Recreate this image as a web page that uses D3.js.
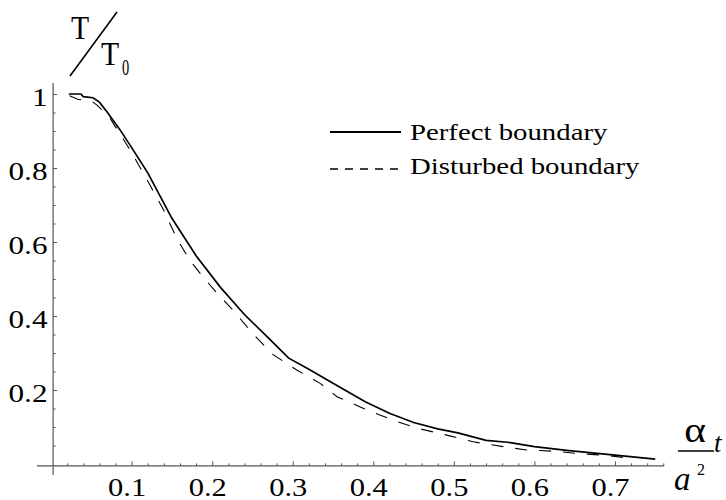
<!DOCTYPE html>
<html>
<head>
<meta charset="utf-8">
<script src="https://cdn.jsdelivr.net/npm/d3@7"></script>
<style>
  body { margin: 0; background: #fff; }
</style>
</head>
<body>
<div id="chart"></div>
<script>
// values
var perfectX = [0.022, 0.037, 0.040, 0.052, 0.060, 0.070, 0.085, 0.100, 0.120, 0.150, 0.180, 0.210, 0.240, 0.270, 0.295, 0.320, 0.350, 0.390, 0.420, 0.450, 0.480, 0.505, 0.540, 0.570, 0.600, 0.640, 0.700, 0.750];
var perfectY = [1.000, 1.000, 0.993, 0.990, 0.978, 0.950, 0.905, 0.855, 0.787, 0.664, 0.563, 0.478, 0.404, 0.340, 0.286, 0.256, 0.218, 0.168, 0.137, 0.112, 0.095, 0.084, 0.064, 0.058, 0.047, 0.037, 0.024, 0.013];

var disturbedX = [0.023, 0.033, 0.050, 0.057, 0.073, 0.098, 0.120, 0.140, 0.156, 0.172, 0.190, 0.208, 0.225, 0.250, 0.276, 0.305, 0.334, 0.355, 0.383, 0.400, 0.430, 0.458, 0.495, 0.524, 0.561, 0.590, 0.628, 0.650, 0.684, 0.722];
var disturbedY = [0.995, 0.986, 0.981, 0.970, 0.935, 0.849, 0.765, 0.685, 0.610, 0.551, 0.502, 0.457, 0.418, 0.353, 0.295, 0.254, 0.218, 0.182, 0.155, 0.139, 0.114, 0.095, 0.076, 0.060, 0.047, 0.038, 0.034, 0.029, 0.024, 0.015];

var xTicks = [0.1, 0.2, 0.3, 0.4, 0.5, 0.6, 0.7];
var xTickLabels = ["0.1", "0.2", "0.3", "0.4", "0.5", "0.6", "0.7"];
var yTicks = [0.2, 0.4, 0.6, 0.8, 1];
var yTickLabels = ["0.2", "0.4", "0.6", "0.8", "1"];
var legendLabels = ["Perfect boundary", "Disturbed boundary"];

var width = 726, height = 500;
var serif = "'Liberation Serif', 'Times New Roman', serif";

var svg = d3.select("#chart")
    .append("svg")
    .attr("width", width)
    .attr("height", height)
    .attr("font-family", serif);

var x = d3.scaleLinear().domain([0, 1]).range([51.1, 856.6]);
var y = d3.scaleLinear().domain([0, 1]).range([464, 94]);

var axisColor = "#555";
var xAxisAt = y(-0.005);
var yAxisAt = x(0.0025);

// x axis: ticks point up
var xMinor = d3.range(0.02, 0.77, 0.02).filter(function(v) {
    return Math.abs(v * 10 - Math.round(v * 10)) > 1e-6;
});
var gx = svg.append("g").attr("transform", "translate(0," + xAxisAt + ")");
gx.append("g")
    .call(d3.axisTop(x).tickValues(xMinor).tickSize(2.5).tickFormat(""));
gx.append("g")
    .call(d3.axisTop(x).tickValues(xTicks).tickSize(4.5).tickFormat(""));
gx.selectAll(".domain").remove();
gx.selectAll("line").attr("stroke", axisColor);
gx.append("line")
    .attr("x1", 37).attr("x2", x(0.761))
    .attr("stroke", axisColor).attr("stroke-width", 1.2);

// y axis: ticks point right
var yMinor = d3.range(0.05, 1.01, 0.05).filter(function(v) {
    return Math.abs(v * 5 - Math.round(v * 5)) > 1e-6;
});
var gy = svg.append("g").attr("transform", "translate(" + yAxisAt + ",0)");
gy.append("g")
    .call(d3.axisRight(y).tickValues(yMinor).tickSize(2.5).tickFormat(""));
gy.append("g")
    .call(d3.axisRight(y).tickValues(yTicks).tickSize(4).tickFormat(""));
gy.selectAll(".domain").remove();
gy.selectAll("line").attr("stroke", axisColor);
gy.append("line")
    .attr("y1", y(1.03)).attr("y2", 475)
    .attr("stroke", axisColor).attr("stroke-width", 1.2);

// tick labels, wide serif like the original
svg.append("g").selectAll("text")
    .data(xTicks)
    .enter()
    .append("text")
    .attr("transform", function(d) { return "translate(" + (x(d) - 4.5) + ",496) scale(1.22,1)"; })
    .attr("text-anchor", "middle")
    .attr("font-family", serif)
    .style("font-size", "25px")
    .text(function(d, i) { return xTickLabels[i]; });

svg.append("g").selectAll("text")
    .data(yTicks)
    .enter()
    .append("text")
    .attr("transform", function(d) { return "translate(47.5," + (y(d) + 12) + ") scale(1.2,1)"; })
    .attr("text-anchor", "end")
    .attr("font-family", serif)
    .style("font-size", "26px")
    .text(function(d, i) { return yTickLabels[i]; });

// curves
var line = d3.line()
    .x(function(d) { return x(d[0]); })
    .y(function(d) { return y(d[1]); });

svg.append("path")
    .datum(d3.zip(perfectX, perfectY))
    .attr("d", line)
    .attr("fill", "none")
    .attr("stroke", "#000")
    .attr("stroke-width", 1.7);

svg.append("path")
    .datum(d3.zip(disturbedX, disturbedY))
    .attr("d", line)
    .attr("fill", "none")
    .attr("stroke", "#000")
    .attr("stroke-width", 1.1)
    .attr("stroke-dasharray", "12,12");

// legend
var legend = svg.append("g");
legend.append("line")
    .attr("x1", 330).attr("x2", 401).attr("y1", 132).attr("y2", 132)
    .attr("stroke", "#000").attr("stroke-width", 1.8);
legend.append("line")
    .attr("x1", 330).attr("x2", 401).attr("y1", 169).attr("y2", 169)
    .attr("stroke", "#000").attr("stroke-width", 1.3)
    .attr("stroke-dasharray", "8,7");
legend.selectAll("text")
    .data(legendLabels)
    .enter()
    .append("text")
    .attr("transform", function(d, i) { return "translate(410," + (140 + i * 34) + ") scale(1.28,1)"; })
    .attr("font-family", serif)
    .style("font-size", "22.5px")
    .text(function(d) { return d; });

// y title  T / T0
var yt = svg.append("g").attr("font-family", serif);
yt.append("text")
    .attr("transform", "translate(71,39) scale(0.9,1)")
    .style("font-size", "33px")
    .text("T");
yt.append("line")
    .attr("x1", 70).attr("y1", 76).attr("x2", 117).attr("y2", 12)
    .attr("stroke", "#000").attr("stroke-width", 1.6);
yt.append("text")
    .attr("transform", "translate(101,65) scale(0.9,1)")
    .style("font-size", "33px")
    .text("T");
yt.append("text")
    .attr("transform", "translate(122,75) scale(0.6,1)")
    .style("font-size", "24px")
    .text("0");

// x title  alpha / a^2  t
var xt = svg.append("g").attr("font-family", serif);
xt.append("text")
    .attr("transform", "translate(695,442) scale(1.15,1)")
    .attr("text-anchor", "middle")
    .style("font-size", "36px")
    .text("α");
xt.append("line")
    .attr("x1", 678).attr("x2", 714).attr("y1", 451).attr("y2", 451)
    .attr("stroke", "#000").attr("stroke-width", 1.6);
xt.append("text")
    .attr("transform", "translate(674,490)")
    .style("font-size", "33px")
    .style("font-style", "italic")
    .text("a");
xt.append("text")
    .attr("transform", "translate(697,475)")
    .style("font-size", "16px")
    .text("2");
xt.append("text")
    .attr("transform", "translate(714,452)")
    .style("font-size", "27px")
    .style("font-style", "italic")
    .text("t");
</script>
</body>
</html>
